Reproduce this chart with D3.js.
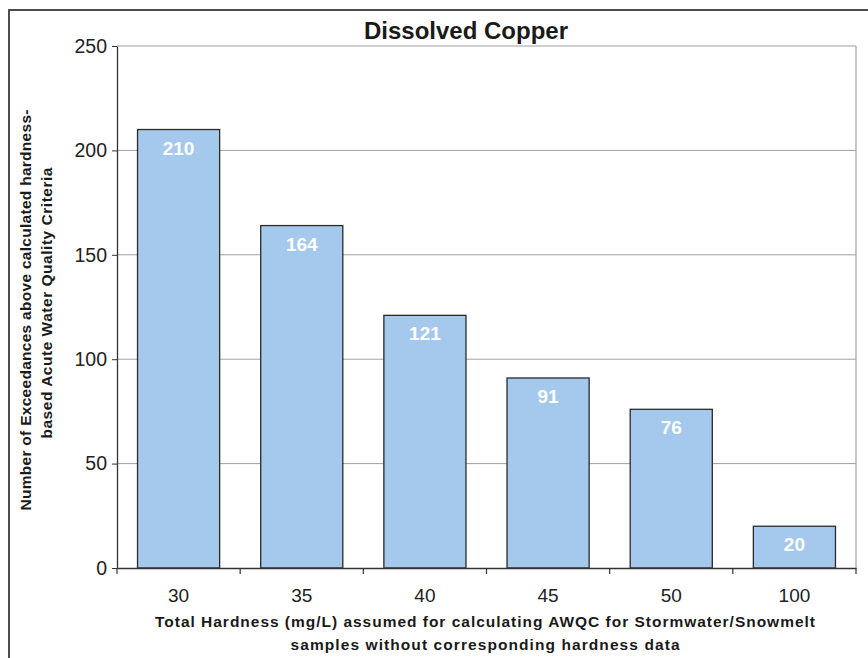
<!DOCTYPE html>
<html>
<head>
<meta charset="utf-8">
<script src="https://cdn.jsdelivr.net/npm/d3@7/dist/d3.min.js"></script>
<style>
  html, body { margin: 0; padding: 0; background: #fff; }
  svg { display: block; font-family: "Liberation Sans", Arial, sans-serif; }
</style>
</head>
<body>
<svg id="chart" width="868" height="658"></svg>
<script>
const categories = ["30", "35", "40", "45", "50", "100"];
const values = [210, 164, 121, 91, 76, 20];
const yTicks = [0, 50, 100, 150, 200, 250];
const titleText = "Dissolved Copper";
const xTitleLines = ["Total Hardness (mg/L) assumed for calculating AWQC for Stormwater/Snowmelt",
                     "samples without corresponding hardness data"];
const yTitleLines = ["Number of Exceedances above calculated hardness-",
                     "based Acute Water Quality Criteria"];

const svg = d3.select("#chart");
const L = 117, R = 856, T = 46, B = 568;

// outer frame
svg.append("rect").attr("x", 9).attr("y", 10).attr("width", 900).attr("height", 700)
  .attr("fill", "#fff").attr("stroke", "#3a3a3a").attr("stroke-width", 1.8);

const x = d3.scaleBand().domain(categories).range([L, R]).paddingInner(1/3).paddingOuter(1/6);
const xb = d3.scaleBand().domain(categories).range([L, R]).padding(0);
const y = d3.scaleLinear().domain([0, 250]).range([B, T]);

// gridlines
svg.append("g").selectAll("line").data(yTicks.filter(d => d > 0)).join("line")
  .attr("x1", L).attr("x2", R).attr("y1", d => y(d)).attr("y2", d => y(d))
  .attr("stroke", "#a0a0a0").attr("stroke-width", 1);
// right border
svg.append("line").attr("x1", R).attr("x2", R).attr("y1", T).attr("y2", B)
  .attr("stroke", "#a0a0a0").attr("stroke-width", 1.2);

// bars
svg.append("g").selectAll("rect").data(values).join("rect")
  .attr("x", (d, i) => x(categories[i]))
  .attr("y", d => y(d))
  .attr("width", x.bandwidth())
  .attr("height", d => B - y(d))
  .attr("fill", "#a4c9ec").attr("stroke", "#2a2a2a").attr("stroke-width", 1.3);

// bar labels
svg.append("g").selectAll("text").data(values).join("text")
  .attr("x", (d, i) => x(categories[i]) + x.bandwidth() / 2)
  .attr("y", d => y(d) + 25)
  .attr("text-anchor", "middle")
  .attr("fill", "#fff").attr("font-weight", "bold").attr("font-size", 19)
  .text(d => d);

// y axis
const yAxis = svg.append("g").attr("transform", `translate(${L},0)`)
  .call(d3.axisLeft(y).tickValues(yTicks).tickSize(5).tickPadding(5).tickSizeOuter(0));
yAxis.select(".domain").attr("stroke", "#333").attr("stroke-width", 1.3);
yAxis.selectAll(".tick line").attr("stroke", "#333");
yAxis.selectAll(".tick text").attr("font-size", 19.5).attr("fill", "#222")
  .attr("font-family", "'Liberation Sans', Arial, sans-serif");

// x axis
const xAxis = svg.append("g").attr("transform", `translate(0,${B})`)
  .call(d3.axisBottom(xb).tickSize(0).tickPadding(34).tickSizeOuter(0));
xAxis.select(".domain").attr("stroke", "#333").attr("stroke-width", 1.3);
xAxis.selectAll(".tick text").attr("font-size", 19).attr("fill", "#222")
  .attr("font-family", "'Liberation Sans', Arial, sans-serif").attr("dy", 0);
// category boundary ticks
const bounds = categories.map(c => xb(c)).concat([R]);
svg.append("g").selectAll("line").data(bounds).join("line")
  .attr("x1", d => d).attr("x2", d => d).attr("y1", B).attr("y2", B + 6)
  .attr("stroke", "#333").attr("stroke-width", 1.2);

// title
svg.append("text").attr("x", 466).attr("y", 39).attr("text-anchor", "middle")
  .attr("font-weight", "bold").attr("font-size", 24).attr("fill", "#1a1a1a")
  .text(titleText);

// x title
const xLens = [660, 389];
svg.append("g").selectAll("text").data(xTitleLines).join("text")
  .attr("x", 485).attr("y", (d, i) => 627 + i * 23)
  .attr("text-anchor", "middle").attr("font-weight", "bold").attr("font-size", 15.5)
  .attr("textLength", (d, i) => xLens[i]).attr("lengthAdjust", "spacing")
  .attr("fill", "#1a1a1a").text(d => d);

// y title
const yLens = [401, 271];
svg.append("g").selectAll("text").data(yTitleLines).join("text")
  .attr("transform", (d, i) => `translate(${31 + i * 21},${i === 0 ? 310 : 303}) rotate(-90)`)
  .attr("text-anchor", "middle").attr("font-weight", "bold").attr("font-size", 15.5)
  .attr("textLength", (d, i) => yLens[i]).attr("lengthAdjust", "spacing")
  .attr("fill", "#1a1a1a").text(d => d);
</script>
</body>
</html>
